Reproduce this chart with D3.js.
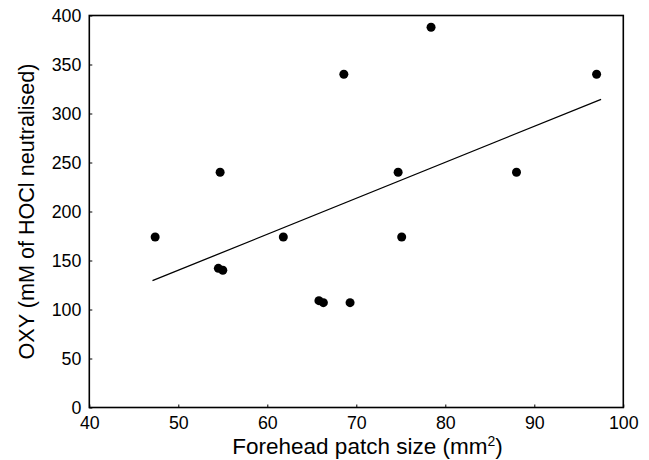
<!DOCTYPE html>
<html>
<head>
<meta charset="utf-8">
<script src="https://cdn.jsdelivr.net/npm/d3@7"></script>
<style>
  body { margin: 0; background: #fff; }
  text { font-family: "Liberation Sans", Arial, sans-serif; }
</style>
</head>
<body>
<script>
// patch size (mm2) vs OXY
let patch = [47.4, 54.7, 54.5, 55.0, 61.8, 65.8, 66.3, 69.3, 68.6, 74.7, 75.1, 78.4, 88.0, 97.0];
let oxy   = [174, 240, 142, 140, 174, 109, 107, 107, 340, 240, 174, 388, 240, 340];

// fitted line end points
let fit_x = [47.1, 97.5];
let fit_y = [129.4, 314.5];

let x_ticks = [40, 50, 60, 70, 80, 90, 100];
let y_ticks = [0, 50, 100, 150, 200, 250, 300, 350, 400];

let width = 649, height = 460;
let margin = { top: 15.5, right: 25.7, bottom: 52.5, left: 89.3 };

let svg = d3.select("body")
  .append("svg")
    .attr("width", width)
    .attr("height", height);

let x = d3.scaleLinear()
    .domain([40, 100])
    .range([margin.left, width - margin.right]);
let y = d3.scaleLinear()
    .domain([0, 400])
    .range([height - margin.bottom, margin.top]);

let x_axis = svg.append("g")
    .attr("transform", `translate(0,${height - margin.bottom})`)
    .call(d3.axisBottom(x).tickValues(x_ticks).tickSizeInner(-3).tickSizeOuter(0).tickPadding(9));
let y_axis = svg.append("g")
    .attr("transform", `translate(${margin.left},0)`)
    .call(d3.axisLeft(y).tickValues(y_ticks).tickSizeInner(-3).tickSizeOuter(0).tickPadding(8));

[x_axis, y_axis].forEach(a => {
  a.select(".domain").remove();
  a.selectAll("text").attr("font-size", 17.8).attr("font-family", "Liberation Sans, Arial, sans-serif").attr("fill", "#000");
  a.selectAll("line").attr("stroke", "#000").attr("stroke-width", 1);
});

// frame
svg.append("rect")
    .attr("x", x(40))
    .attr("y", y(400))
    .attr("width", x(100) - x(40))
    .attr("height", y(0) - y(400))
    .attr("fill", "none")
    .attr("stroke", "#000")
    .attr("stroke-width", 1.6);

svg.append("line")
    .attr("x1", x(fit_x[0]))
    .attr("y1", y(fit_y[0]))
    .attr("x2", x(fit_x[1]))
    .attr("y2", y(fit_y[1]))
    .attr("stroke", "#000")
    .attr("stroke-width", 1.3);

svg.selectAll("circle")
  .data(patch)
  .join("circle")
    .attr("cx", d => x(d))
    .attr("cy", (d, i) => y(oxy[i]))
    .attr("r", 4.5)
    .attr("fill", "#000");

let x_title = svg.append("text")
    .attr("x", 367.5)
    .attr("y", 454)
    .attr("text-anchor", "middle")
    .attr("font-size", 22.5)
    .attr("fill", "#000");
x_title.append("tspan").text("Forehead patch size (mm");
x_title.append("tspan").text("2").attr("font-size", 14).attr("dy", -8.5);
x_title.append("tspan").text(")").attr("dy", 8.5);

svg.append("text")
    .attr("transform", `translate(33.5,${(y(0) + y(400)) / 2}) rotate(-90)`)
    .attr("text-anchor", "middle")
    .attr("font-size", 21.6)
    .attr("fill", "#000")
    .text("OXY (mM of HOCl neutralised)");
</script>
</body>
</html>
